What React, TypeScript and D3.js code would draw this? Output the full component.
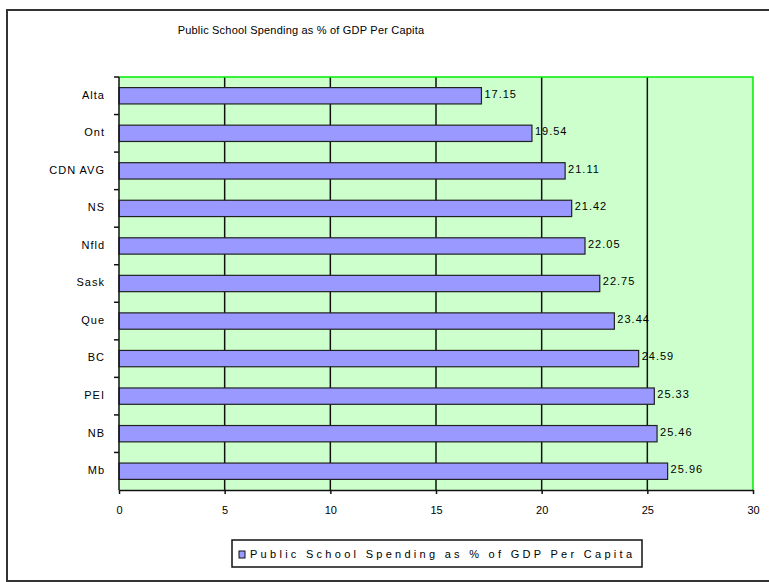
import React, { useEffect, useRef } from 'react';
import * as d3 from 'd3';

// datos
const categories = ["Alta", "Ont", "CDN AVG", "NS", "Nfld", "Sask", "Que", "BC", "PEI", "NB", "Mb"];
const values = [17.15, 19.54, 21.11, 21.42, 22.05, 22.75, 23.44, 24.59, 25.33, 25.46, 25.96];
const valueLabels = ["17.15", "19.54", "21.11", "21.42", "22.05", "22.75", "23.44", "24.59", "25.33", "25.46", "25.96"];
const xTicks = [0, 5, 10, 15, 20, 25, 30];
const seriesName = "Public School Spending as % of GDP Per Capita";
const title = "Public School Spending as % of GDP Per Capita";

export default function App() {
  const svgRef = useRef<SVGSVGElement>(null);
  const width = 769;
  const height = 582;

  useEffect(() => {
    const svg = d3.select(svgRef.current);
    svg.selectAll("*").remove();

    const font = "'Liberation Sans', Arial, sans-serif";
    const plot = { left: 119, right: 753, top: 77, bottom: 490 };

    // marco del grafico
    svg.append("rect")
      .attr("x", 7).attr("y", 10)
      .attr("width", 790).attr("height", 571)
      .attr("fill", "white")
      .attr("stroke", "#333")
      .attr("stroke-width", 2);

    svg.append("text")
      .attr("x", 301).attr("y", 34)
      .attr("text-anchor", "middle")
      .attr("font-family", font)
      .attr("font-size", 11)
      .attr("letter-spacing", 0.2)
      .text(title);

    const xScale = d3.scaleLinear()
      .domain([0, 30])
      .range([plot.left, plot.right]);

    const yScale = d3.scaleBand()
      .domain(categories)
      .range([plot.top, plot.bottom])
      .paddingInner(0.565)
      .paddingOuter(0.2825);

    // fondo
    svg.append("rect")
      .attr("x", plot.left).attr("y", plot.top)
      .attr("width", plot.right - plot.left)
      .attr("height", plot.bottom - plot.top)
      .attr("fill", "#ccffcc");

    // lineas de cuadricula
    svg.selectAll("line.grid")
      .data(xTicks.filter(t => t > 0 && t < 30))
      .enter()
      .append("line")
      .attr("class", "grid")
      .attr("x1", d => xScale(d)).attr("x2", d => xScale(d))
      .attr("y1", plot.top).attr("y2", plot.bottom)
      .attr("stroke", "#111")
      .attr("stroke-width", 1.5);

    // borde verde
    svg.append("path")
      .attr("d", `M${plot.left},${plot.top}H${plot.right}V${plot.bottom}`)
      .attr("fill", "none")
      .attr("stroke", "#00ee00")
      .attr("stroke-width", 1.5);

    // barras
    svg.selectAll("rect.bar")
      .data(values)
      .enter()
      .append("rect")
      .attr("class", "bar")
      .attr("x", xScale(0))
      .attr("y", (d, i) => yScale(categories[i])!)
      .attr("width", d => xScale(d) - xScale(0))
      .attr("height", yScale.bandwidth())
      .attr("fill", "#9999ff")
      .attr("stroke", "#222")
      .attr("stroke-width", 1.2);

    // etiquetas de valores
    svg.selectAll("text.value")
      .data(values)
      .enter()
      .append("text")
      .attr("class", "value")
      .attr("x", d => xScale(d) + 3)
      .attr("y", (d, i) => yScale(categories[i])! + yScale.bandwidth() / 2 - 2)
      .attr("dy", "0.35em")
      .attr("font-family", font)
      .attr("font-size", 11)
      .attr("letter-spacing", 1)
      .text((d, i) => valueLabels[i]);

    // ejes
    const step = yScale.step();
    const yAxis = svg.append("g")
      .attr("transform", `translate(${plot.left},0)`);
    yAxis.append("line")
      .attr("x1", 0).attr("x2", 0)
      .attr("y1", plot.top).attr("y2", plot.bottom)
      .attr("stroke", "#111").attr("stroke-width", 1.5);
    yAxis.selectAll("line.tick")
      .data(d3.range(categories.length))
      .enter()
      .append("line")
      .attr("class", "tick")
      .attr("x1", -5).attr("x2", 0)
      .attr("y1", i => plot.top + i * step)
      .attr("y2", i => plot.top + i * step)
      .attr("stroke", "#111").attr("stroke-width", 1.5);
    yAxis.selectAll("text")
      .data(categories)
      .enter()
      .append("text")
      .attr("x", -14)
      .attr("y", d => yScale(d)! + yScale.bandwidth() / 2 - 1)
      .attr("dy", "0.35em")
      .attr("text-anchor", "end")
      .attr("font-family", font)
      .attr("font-size", 11)
      .attr("letter-spacing", 1)
      .text(d => d);

    const xAxis = svg.append("g")
      .attr("transform", `translate(0,${plot.bottom})`)
      .call(d3.axisBottom(xScale).tickValues(xTicks).tickSize(4).tickSizeOuter(0));
    xAxis.select(".domain").attr("stroke", "#111").attr("stroke-width", 1.5);
    xAxis.selectAll(".tick line").attr("stroke", "#111").attr("stroke-width", 1.5);
    xAxis.selectAll(".tick text")
      .attr("y", 16)
      .attr("font-family", font)
      .attr("font-size", 11)
      .attr("fill", "#000");

    // leyenda
    const legend = svg.append("g");
    legend.append("rect")
      .attr("x", 232).attr("y", 540)
      .attr("width", 410).attr("height", 27)
      .attr("fill", "white")
      .attr("stroke", "#111")
      .attr("stroke-width", 1.5);
    legend.append("rect")
      .attr("x", 239).attr("y", 551)
      .attr("width", 6).attr("height", 7)
      .attr("fill", "#9999ff")
      .attr("stroke", "#111");
    legend.append("text")
      .attr("x", 250).attr("y", 554)
      .attr("dy", "0.35em")
      .attr("font-family", font)
      .attr("font-size", 11)
      .attr("textLength", 382)
      .attr("lengthAdjust", "spacing")
      .text(seriesName);
  }, []);

  return (
    <svg ref={svgRef} width={width} height={height}
      style={{ position: "absolute", left: 0, top: 0, background: "white" }}></svg>
  );
}
